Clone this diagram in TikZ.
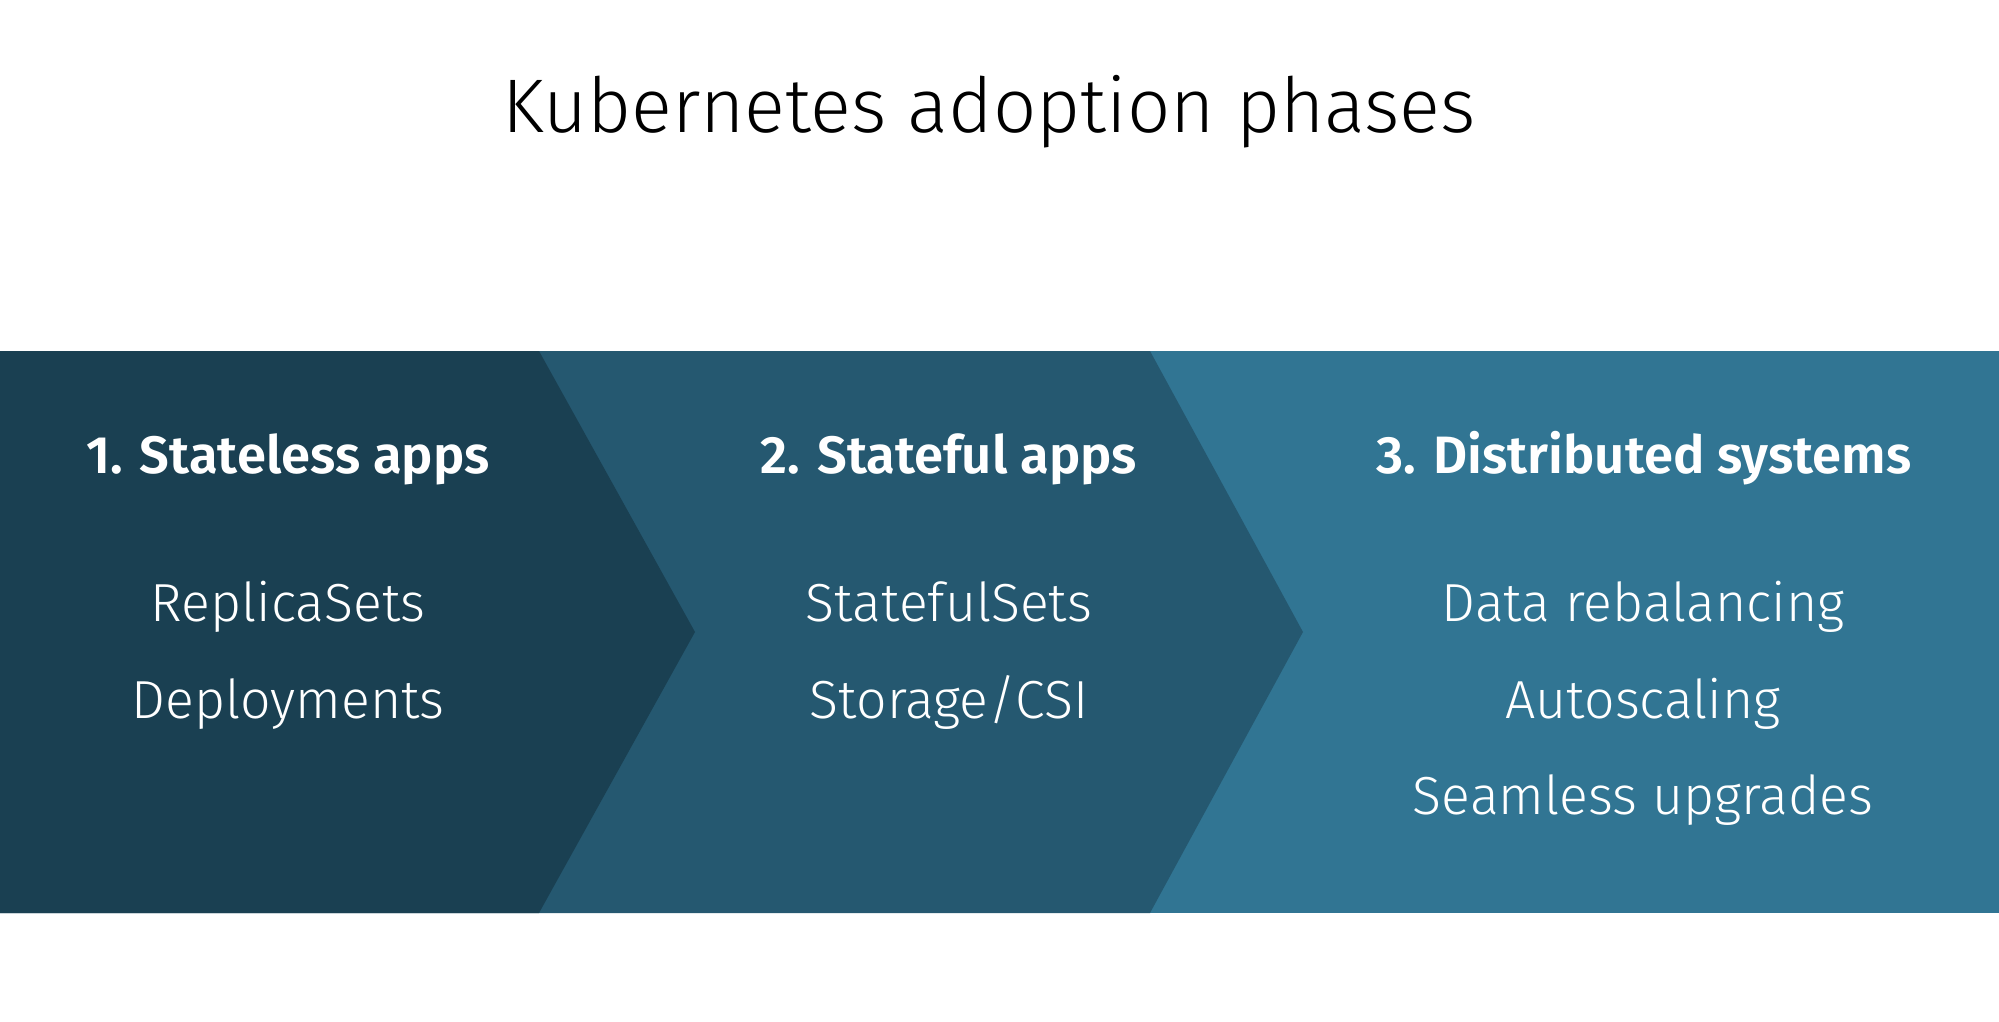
\documentclass[tikz,border=0pt]{standalone}
\usepackage{fontspec}
\setmainfont{Fira Sans}
\newfontfamily\lightfont{Fira Sans Light}
\newfontfamily\headfont{Fira Sans SemiBold}
\definecolor{cone}{HTML}{1A4052}
\definecolor{ctwo}{HTML}{255870}
\definecolor{cthree}{HTML}{317593}
\begin{document}
\begin{tikzpicture}[x=0.5pt,y=-0.5pt,
  titletext/.style={anchor=base,text=black,font=\lightfont\fontsize{38}{44}\selectfont,inner sep=0pt},
  headtext/.style={anchor=base,text=white,font=\headfont\fontsize{26.3}{30}\selectfont,inner sep=0pt},
  itemtext/.style={anchor=base,text=white,font=\lightfont\fontsize{26.8}{30}\selectfont,inner sep=0pt}]
\useasboundingbox (0,0) rectangle (1999,1022);
\fill[white] (0,0) rectangle (1999,1022);
\fill[cthree] (0,351) rectangle (1999,913);
\fill[ctwo] (0,351) -- (1150,351) -- (1303,632) -- (1150,913) -- (0,913) -- cycle;
\fill[cone] (0,351) -- (539,351) -- (695,632) -- (539,913) -- (0,913) -- cycle;
\node[titletext] (title) at (989,133) {Kubernetes adoption phases};
\node[headtext] (h1) at (288,473) {1. Stateless apps};
\node[headtext] (h2) at (949,473) {2. Stateful apps};
\node[headtext] (h3) at (1644,473) {3. Distributed systems};
\node[itemtext] (a1) at (288,621) {ReplicaSets};
\node[itemtext] (a2) at (288,718) {Deployments};
\node[itemtext] (b1) at (949,621) {StatefulSets};
\node[itemtext] (b2) at (949,718) {Storage/CSI};
\node[itemtext] (c1) at (1643,621) {Data rebalancing};
\node[itemtext] (c2) at (1643,718) {Autoscaling};
\node[itemtext] (c3) at (1643,814) {Seamless upgrades};
\end{tikzpicture}
\end{document}
